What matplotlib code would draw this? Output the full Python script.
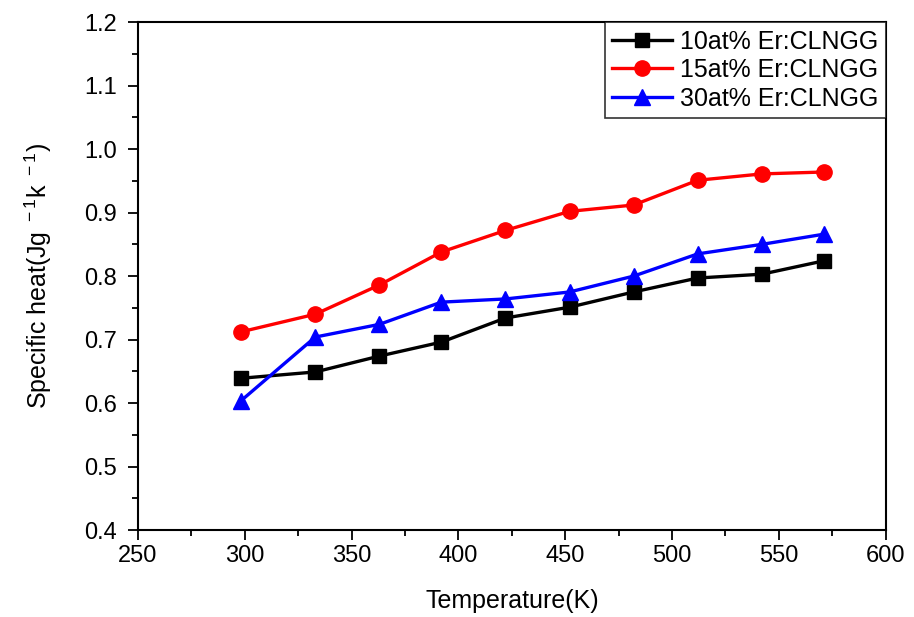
import numpy as np
import matplotlib
matplotlib.use('Agg')
import matplotlib.pyplot as plt
from matplotlib.ticker import MultipleLocator

plt.rcParams['font.family'] = ['Liberation Sans', 'DejaVu Sans']
plt.rcParams['mathtext.default'] = 'regular'

temps = [298, 333, 363, 392, 422, 452, 482, 512, 542, 571]
er10 = [0.639, 0.649, 0.674, 0.696, 0.734, 0.751, 0.775, 0.797, 0.803, 0.824]
er15 = [0.712, 0.740, 0.786, 0.838, 0.872, 0.902, 0.912, 0.951, 0.961, 0.964]
er30 = [0.603, 0.704, 0.724, 0.759, 0.764, 0.775, 0.800, 0.835, 0.850, 0.866]
labels = ['10at% Er:CLNGG', '15at% Er:CLNGG', '30at% Er:CLNGG']

fig = plt.figure(figsize=(9.14, 6.17), dpi=100)
ax = fig.add_axes([0.151, 0.141, 0.818, 0.823])

ax.plot(temps, er10, color='black', marker='s', ms=10, lw=2.4, label=labels[0])
ax.plot(temps, er15, color='red', marker='o', ms=11, lw=2.4, label=labels[1])
ax.plot(temps, er30, color='blue', marker='^', ms=12, lw=2.4, label=labels[2])

ax.set_xlim(250, 600)
ax.set_ylim(0.4, 1.2)
ax.xaxis.set_major_locator(MultipleLocator(50))
ax.xaxis.set_minor_locator(MultipleLocator(25))
ax.yaxis.set_major_locator(MultipleLocator(0.1))
ax.yaxis.set_minor_locator(MultipleLocator(0.05))
ax.yaxis.set_major_formatter(plt.FuncFormatter(lambda v, p: f'{v:.1f}'))

ax.tick_params(which='both', direction='out', top=False, right=False, labelsize=17, width=1.3)
ax.tick_params(which='major', length=7)
ax.tick_params(which='minor', length=4)
ax.tick_params(axis='y', which='major', pad=8)
for s in ax.spines.values():
    s.set_linewidth(1.5)

ax.set_xlabel('Temperature(K)', fontsize=18, labelpad=16)
ax.set_ylabel('Specific heat(Jg$^{\\ -1}$k$^{\\ -1}$)', fontsize=18, labelpad=22)

leg = ax.legend(loc='upper right', fontsize=18, frameon=True, fancybox=False,
                borderaxespad=0, handlelength=2.4, handletextpad=0.3,
                labelspacing=0.18, borderpad=0.3)
leg.get_frame().set_edgecolor('black')
leg.get_frame().set_linewidth(1.2)

fig.savefig('out.png', dpi=100)
